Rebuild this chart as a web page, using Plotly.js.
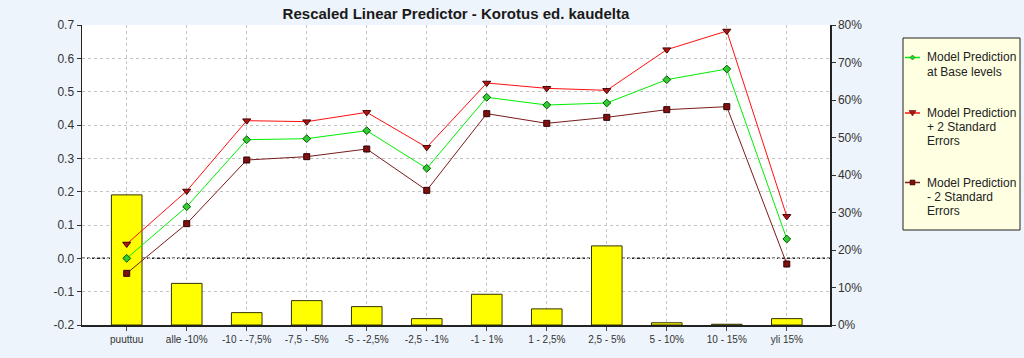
<!DOCTYPE html>
<html>
<head>
<meta charset="utf-8">
<script src="https://cdn.plot.ly/plotly-3.0.1.min.js"></script>
<style>
html,body{margin:0;padding:0;background:#EEF4FB;}
#chart{width:1024px;height:358px;}
</style>
</head>
<body>
<div id="chart"></div>
<script>
const categories = ["puuttuu","alle -10%","-10 - -7,5%","-7,5 - -5%","-5 - -2,5%","-2,5 - -1%","-1 - 1%","1 - 2,5%","2,5 - 5%","5 - 10%","10 - 15%","yli 15%"];
const exposure = [0.347,0.111,0.033,0.065,0.049,0.017,0.082,0.043,0.211,0.006,0.002,0.017];
const predBase = [0.000,0.155,0.356,0.359,0.383,0.270,0.483,0.460,0.466,0.536,0.568,0.058];
const predPlus2SE = [0.043,0.202,0.413,0.410,0.438,0.333,0.526,0.510,0.504,0.626,0.682,0.126];
const predMinus2SE = [-0.045,0.104,0.295,0.305,0.328,0.204,0.434,0.405,0.423,0.446,0.455,-0.017];
const leftTicks = [-0.2,-0.1,0.0,0.1,0.2,0.3,0.4,0.5,0.6,0.7];
const leftTickText = ["-0.2","-0.1","0.0","0.1","0.2","0.3","0.4","0.5","0.6","0.7"];
const rightTicks = [0,0.1,0.2,0.3,0.4,0.5,0.6,0.7,0.8];
const rightTickText = ["0%","10%","20%","30%","40%","50%","60%","70%","80%"];
const legendLabels = [
  ["Model Prediction","at Base levels"],
  ["Model Prediction","+ 2 Standard","Errors"],
  ["Model Prediction","- 2 Standard","Errors"]
];

const fontFam = "Liberation Sans, Arial, sans-serif";
const xIdx = categories.map((c,i)=>i);

const seriesStyle = [
  {line:'#00EE00', mfill:'#33CC33', mline:'#005500', sym:'diamond', size:6},
  {line:'#FF1010', mfill:'#B01515', mline:'#400000', sym:'triangle-down', size:7},
  {line:'#7A1A1A', mfill:'#801010', mline:'#300000', sym:'square', size:6}
];
const seriesData = [predBase, predPlus2SE, predMinus2SE];

const traces = [
  {type:'bar', x:xIdx, y:exposure, yaxis:'y', width:0.51, showlegend:false,
   marker:{color:'#FFFF00', line:{color:'#333300', width:1}}, hoverinfo:'skip'}
];
seriesData.forEach((d,i)=>{
  const s = seriesStyle[i];
  traces.push({type:'scatter', mode:'lines+markers', x:xIdx, y:d, yaxis:'y2', showlegend:false,
    line:{color:s.line, width:1},
    marker:{symbol:s.sym, size:s.size, color:s.mfill, line:{color:s.mline, width:1}}});
});

// Manual legend (paper coordinates computed from pixel layout)
const L = 82, R = 830, T = 25, B = 325;
const px = v => (v - L) / (R - L);
const py = v => (B - v) / (B - T);
const shapes = [
  {type:'line', xref:'paper', yref:'y2', x0:0, x1:1, y0:0, y1:0, layer:'below',
   line:{color:'#222222', width:1.5, dash:'3px,2px'}},
  {type:'rect', xref:'paper', yref:'paper', x0:px(903), x1:px(1020), y0:py(38), y1:py(230),
   fillcolor:'#FFFFE1', line:{color:'#222222', width:1}}
];
const annotations = [];
const entryY = [57.5, 113, 182.5];
legendLabels.forEach((lines,i)=>{
  const s = seriesStyle[i];
  const y = entryY[i];
  shapes.push({type:'line', xref:'paper', yref:'paper', x0:px(905), x1:px(920), y0:py(y), y1:py(y),
    line:{color:s.line, width:1.5}});
  let path;
  const cx = 912.5;
  if (i === 0) {
    path = `M${px(cx-2.5)},${py(y)} L${px(cx)},${py(y-2.5)} L${px(cx+2.5)},${py(y)} L${px(cx)},${py(y+2.5)} Z`;
  } else if (i === 1) {
    path = `M${px(cx-3.5)},${py(y-2.5)} L${px(cx+3.5)},${py(y-2.5)} L${px(cx)},${py(y+3)} Z`;
  } else {
    path = `M${px(cx-2.5)},${py(y-2.5)} L${px(cx+2.5)},${py(y-2.5)} L${px(cx+2.5)},${py(y+2.5)} L${px(cx-2.5)},${py(y+2.5)} Z`;
  }
  shapes.push({type:'path', xref:'paper', yref:'paper', path:path,
    fillcolor:s.mfill, line:{color:s.mline, width:0.5}});
  lines.forEach((t,j)=>{
    annotations.push({xref:'paper', yref:'paper', x:px(925), y:py(y + j*14.2), xanchor:'left', yanchor:'middle',
      text:t, showarrow:false, font:{family:fontFam, size:12, color:'#222222'}});
  });
});

const layout = {
  width:1024, height:358,
  paper_bgcolor:'#EEF4FB', plot_bgcolor:'#FFFFFF',
  margin:{l:L, r:1024-R, t:T, b:358-B},
  font:{family:fontFam, size:12, color:'#333333'},
  title:{text:'Rescaled Linear Predictor - Korotus ed. kaudelta', x:0.5, xref:'paper', xanchor:'center',
         y:0.962, yref:'container', yanchor:'middle',
         font:{family:fontFam, size:15, color:'#1a1a1a', weight:'bold'}},
  xaxis:{range:[-0.745,11.72], tickvals:xIdx, ticktext:categories, showgrid:true,
         gridcolor:'#C4C4C4', griddash:'3px,3px', gridwidth:1,
         showline:true, linecolor:'#222222', linewidth:1.5,
         ticks:'outside', ticklen:4, tickcolor:'#444444', zeroline:false,
         tickfont:{size:10, color:'#333333'}, fixedrange:true},
  yaxis:{range:[0,0.8], side:'right', tickvals:rightTicks, ticktext:rightTickText,
         showgrid:false, showline:true, linecolor:'#222222', linewidth:1.5,
         ticks:'outside', ticklen:4, tickcolor:'#333333', zeroline:false,
         tickfont:{size:12, color:'#333333'}},
  yaxis2:{range:[-0.2,0.7], side:'left', overlaying:'y', tickvals:leftTicks, ticktext:leftTickText,
          showgrid:true, gridcolor:'#C4C4C4', griddash:'3px,3px', gridwidth:1,
          showline:true, linecolor:'#222222', linewidth:1.5,
          ticks:'outside', ticklen:4, tickcolor:'#333333', zeroline:false,
          tickfont:{size:12, color:'#333333'}},
  shapes:shapes,
  annotations:annotations,
  showlegend:false,
  bargap:0
};

Plotly.newPlot('chart', traces, layout, {displayModeBar:false, staticPlot:true});
</script>
</body>
</html>
